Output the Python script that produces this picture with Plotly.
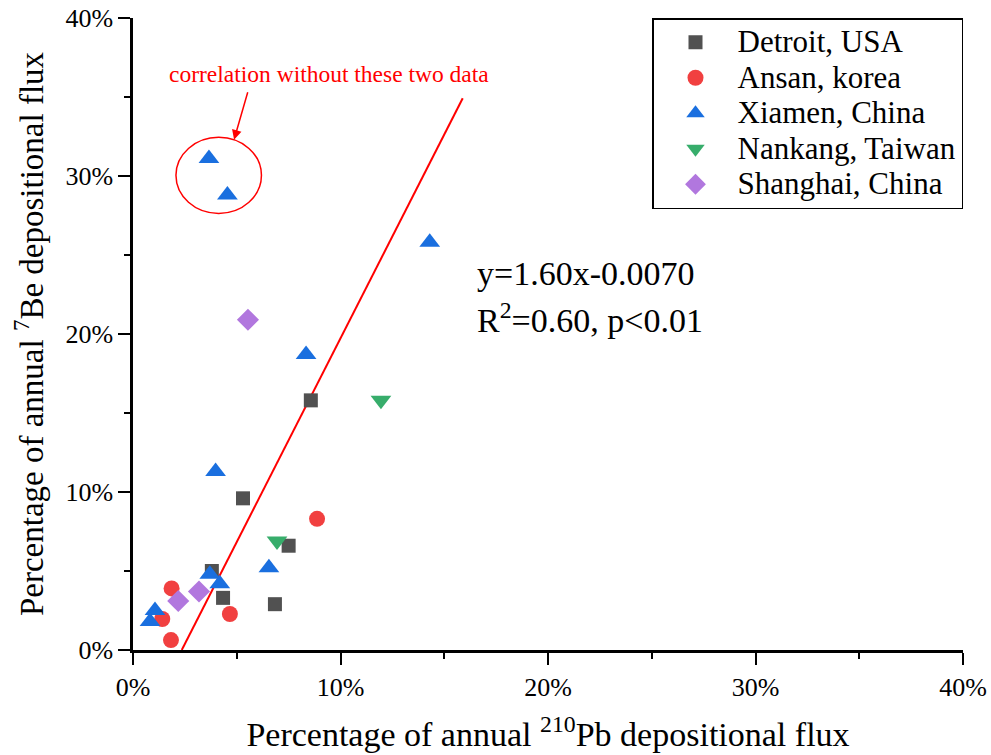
import plotly.graph_objects as go

# Data (percent)
detroit_x = [8.57, 5.30, 3.80, 7.50, 4.34, 6.84]
detroit_y = [15.8, 9.6, 5.0, 6.6, 3.3, 2.9]
ansan_x = [8.87, 1.86, 1.41, 1.83, 4.67]
ansan_y = [8.3, 3.9, 1.96, 0.63, 2.28]
xiamen_x = [3.66, 4.55, 14.3, 8.34, 3.98, 6.55, 3.70, 4.18, 1.06, 0.82]
xiamen_y = [31.1, 28.8, 25.8, 18.7, 11.3, 5.2, 4.8, 4.2, 2.5, 1.8]
nankang_x = [11.95, 6.94]
nankang_y = [15.8, 6.9]
shanghai_x = [5.54, 2.18, 3.18]
shanghai_y = [20.9, 3.1, 3.7]
fit_x = [2.35, 15.89]
fit_y = [0.0, 34.92]

FONT = "Liberation Serif, Times New Roman, serif"

fig = go.Figure()
fig.add_trace(go.Scatter(x=fit_x, y=fit_y, mode="lines",
                         line=dict(color="#FF0000", width=2), showlegend=False))
series = [
    ("Detroit, USA", detroit_x, detroit_y, "square", "#515151", 14),
    ("Ansan, korea", ansan_x, ansan_y, "circle", "#F14040", 16),
    ("Xiamen, China", xiamen_x, xiamen_y, "triangle-up", "#1A6FDF", 18),
    ("Nankang, Taiwan", nankang_x, nankang_y, "triangle-down", "#37AD6B", 18),
    ("Shanghai, China", shanghai_x, shanghai_y, "diamond", "#B177DE", 17),
]
for name, xs, ys, sym, col, sz in series:
    fig.add_trace(go.Scatter(x=xs, y=ys, mode="markers",
                             name='<span style="font-size:31px">' + name + '</span>',
                             marker=dict(symbol=sym, color=col, size=sz, line=dict(width=0))))

# ellipse around excluded points
fig.add_shape(type="circle", xref="x", yref="y", x0=2.07, x1=6.19, y0=27.63, y1=32.45,
              line=dict(color="#FF0000", width=1.5))
fig.add_annotation(x=4.87, y=32.3, ax=5.55, ay=35.4, xref="x", yref="y", axref="x", ayref="y",
                   showarrow=True, arrowhead=2, arrowsize=1.3, arrowwidth=1.5, arrowcolor="#FF0000", text="")
fig.add_annotation(x=9.45, y=36.45, xref="x", yref="y", text="correlation without these two data",
                   showarrow=False, font=dict(family=FONT, size=23.5, color="#FF0000"))
fig.add_annotation(x=16.5, y=23.8, xref="x", yref="y", xanchor="left",
                   text="y=1.60x-0.0070", showarrow=False,
                   font=dict(family=FONT, size=34, color="black"))
fig.add_annotation(x=16.5, y=21.0, xref="x", yref="y", xanchor="left",
                   text="R<sup>2</sup>=0.60, p<0.01", showarrow=False,
                   font=dict(family=FONT, size=34, color="black"))

axis_common = dict(range=[0, 40], dtick=10, ticksuffix="%", showgrid=False, zeroline=False,
                   showline=True, linecolor="black", linewidth=2.5, ticks="outside",
                   ticklen=12, tickwidth=2, tickcolor="black", automargin=False,
                   minor=dict(ticks="outside", dtick=5, ticklen=6, tickwidth=2, tickcolor="black"),
                   tickfont=dict(family=FONT, size=26, color="black"))
fig.update_xaxes(**axis_common,
                 title=dict(text="Percentage of annual <sup>210</sup>Pb depositional flux",
                            font=dict(family=FONT, size=34, color="black"), standoff=22))
fig.update_yaxes(**axis_common,
                 title=dict(text="Percentage of annual <sup>7</sup>Be depositional flux",
                            font=dict(family=FONT, size=33, color="black"), standoff=12))

fig.update_layout(
    width=991, height=755,
    margin=dict(l=133, r=28, t=18, b=105),
    plot_bgcolor="white", paper_bgcolor="white",
    legend=dict(x=1, y=1, xanchor="right", yanchor="top",
                bordercolor="black", borderwidth=1.5, bgcolor="white",
                font=dict(family=FONT, size=25, color="black"),
                itemwidth=74),
)
fig.write_html("out.html")
